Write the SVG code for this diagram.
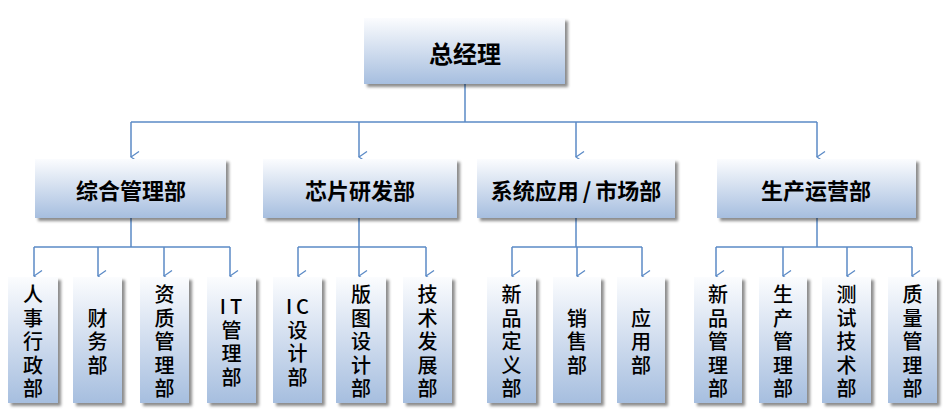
<svg xmlns="http://www.w3.org/2000/svg" width="950" height="420" viewBox="0 0 950 420">
<defs>
<linearGradient id="g" x1="0" y1="0" x2="0" y2="1">
<stop offset="0" stop-color="#FBFCFE"/>
<stop offset="1" stop-color="#A6BEDF"/>
</linearGradient>
<filter id="sh" x="-20%" y="-20%" width="150%" height="150%">
<feDropShadow dx="3" dy="3" stdDeviation="1.5" flood-color="#000" flood-opacity="0.45"/>
</filter>
<marker id="arr" viewBox="0 0 12 10" refX="6" refY="9" markerWidth="12" markerHeight="10" markerUnits="userSpaceOnUse" orient="auto-start-reverse">
<path d="M0.5,1 L6,9 L11.5,1" fill="none" stroke="#5B8AC6" stroke-width="1.3"/>
</marker>
</defs>
<style>
.box{fill:url(#g);filter:url(#sh);}
.t0{font-family:"Noto Sans CJK SC",sans-serif;font-size:24px;font-weight:bold;fill:#000;text-anchor:middle;dominant-baseline:central;}
.t1{font-family:"Noto Sans CJK SC",sans-serif;font-size:22px;font-weight:bold;fill:#000;text-anchor:middle;dominant-baseline:central;}
.t2{font-family:"Noto Sans CJK SC",sans-serif;font-size:20px;font-weight:500;fill:#000;text-anchor:middle;dominant-baseline:central;}
.ln{fill:none;stroke:#5B8AC6;stroke-width:1.5;}
.ar{fill:none;stroke:#5B8AC6;stroke-width:1.5;marker-end:url(#arr);}
</style>
<g id="connectors">
<path class="ln" d="M465,84 V122 M131,122 H817"/>
<path class="ar" d="M131,122 V157"/>
<path class="ar" d="M359,122 V157"/>
<path class="ar" d="M576,122 V157"/>
<path class="ar" d="M817,122 V157"/>
<path class="ln" d="M131,218 V247 M34,247 H230"/>
<path class="ar" d="M34,247 V276"/>
<path class="ar" d="M98,247 V276"/>
<path class="ar" d="M164,247 V276"/>
<path class="ar" d="M230,247 V276"/>
<path class="ln" d="M359,218 V247 M298,247 H426"/>
<path class="ar" d="M298,247 V276"/>
<path class="ar" d="M359,247 V276"/>
<path class="ar" d="M426,247 V276"/>
<path class="ln" d="M576,218 V247 M512,247 H642"/>
<path class="ar" d="M512,247 V276"/>
<path class="ar" d="M577,247 V276"/>
<path class="ar" d="M642,247 V276"/>
<path class="ln" d="M817,218 V247 M716,247 H912"/>
<path class="ar" d="M716,247 V276"/>
<path class="ar" d="M783,247 V276"/>
<path class="ar" d="M847,247 V276"/>
<path class="ar" d="M912,247 V276"/>
</g>
<g id="n-ceo"><rect class="box" x="364" y="18" width="201" height="66"/><text class="t0" x="465" y="52">总经理</text></g>
<g id="n-zh"><rect class="box" x="35" y="159" width="191" height="59"/><text class="t1" x="131" y="189">综合管理部</text></g>
<g id="n-xp"><rect class="box" x="263" y="159" width="194" height="59"/><text class="t1" x="360" y="189">芯片研发部</text></g>
<g id="n-xt"><rect class="box" x="477" y="159" width="198" height="59"/><text class="t1" x="576" y="189"><tspan>系统应用</tspan><tspan dx="4">/</tspan><tspan dx="4">市场部</tspan></text></g>
<g id="n-sc"><rect class="box" x="717" y="159" width="199" height="59"/><text class="t1" x="816" y="189">生产运营部</text></g>

<g id="n-rs"><rect class="box" x="8" y="277" width="50" height="126"/><text class="t2"><tspan x="33" y="293">人</tspan><tspan x="33" y="316.5">事</tspan><tspan x="33" y="340">行</tspan><tspan x="33" y="363.5">政</tspan><tspan x="33" y="387">部</tspan></text></g>
<g id="n-cw"><rect class="box" x="73" y="277" width="49" height="126"/><text class="t2"><tspan x="97.5" y="316.5">财</tspan><tspan x="97.5" y="340">务</tspan><tspan x="97.5" y="363.5">部</tspan></text></g>
<g id="n-zz"><rect class="box" x="140" y="277" width="49" height="126"/><text class="t2"><tspan x="164.5" y="293">资</tspan><tspan x="164.5" y="316.5">质</tspan><tspan x="164.5" y="340">管</tspan><tspan x="164.5" y="363.5">理</tspan><tspan x="164.5" y="387">部</tspan></text></g>
<g id="n-it"><rect class="box" x="207" y="277" width="49" height="126"/><text class="t2"><tspan x="233" y="305" letter-spacing="4">IT</tspan><tspan x="231.5" y="328.5">管</tspan><tspan x="231.5" y="352">理</tspan><tspan x="231.5" y="375.5">部</tspan></text></g>

<g id="n-ic"><rect class="box" x="273" y="277" width="49" height="126"/><text class="t2"><tspan x="299.5" y="305" letter-spacing="4">IC</tspan><tspan x="297.5" y="328.5">设</tspan><tspan x="297.5" y="352">计</tspan><tspan x="297.5" y="375.5">部</tspan></text></g>
<g id="n-bt"><rect class="box" x="336" y="277" width="50" height="126"/><text class="t2"><tspan x="361" y="293">版</tspan><tspan x="361" y="316.5">图</tspan><tspan x="361" y="340">设</tspan><tspan x="361" y="363.5">计</tspan><tspan x="361" y="387">部</tspan></text></g>
<g id="n-js"><rect class="box" x="403" y="277" width="49" height="126"/><text class="t2"><tspan x="427.5" y="293">技</tspan><tspan x="427.5" y="316.5">术</tspan><tspan x="427.5" y="340">发</tspan><tspan x="427.5" y="363.5">展</tspan><tspan x="427.5" y="387">部</tspan></text></g>

<g id="n-xpdy"><rect class="box" x="487" y="277" width="49" height="126"/><text class="t2"><tspan x="511.5" y="293">新</tspan><tspan x="511.5" y="316.5">品</tspan><tspan x="511.5" y="340">定</tspan><tspan x="511.5" y="363.5">义</tspan><tspan x="511.5" y="387">部</tspan></text></g>
<g id="n-xs"><rect class="box" x="553" y="277" width="48" height="126"/><text class="t2"><tspan x="577" y="316.5">销</tspan><tspan x="577" y="340">售</tspan><tspan x="577" y="363.5">部</tspan></text></g>
<g id="n-yy"><rect class="box" x="617" y="277" width="48" height="126"/><text class="t2"><tspan x="641" y="316.5">应</tspan><tspan x="641" y="340">用</tspan><tspan x="641" y="363.5">部</tspan></text></g>

<g id="n-xpgl"><rect class="box" x="694" y="277" width="48" height="126"/><text class="t2"><tspan x="718" y="293">新</tspan><tspan x="718" y="316.5">品</tspan><tspan x="718" y="340">管</tspan><tspan x="718" y="363.5">理</tspan><tspan x="718" y="387">部</tspan></text></g>
<g id="n-scgl"><rect class="box" x="759" y="277" width="48" height="126"/><text class="t2"><tspan x="783" y="293">生</tspan><tspan x="783" y="316.5">产</tspan><tspan x="783" y="340">管</tspan><tspan x="783" y="363.5">理</tspan><tspan x="783" y="387">部</tspan></text></g>
<g id="n-csjs"><rect class="box" x="822" y="277" width="49" height="126"/><text class="t2"><tspan x="846.5" y="293">测</tspan><tspan x="846.5" y="316.5">试</tspan><tspan x="846.5" y="340">技</tspan><tspan x="846.5" y="363.5">术</tspan><tspan x="846.5" y="387">部</tspan></text></g>
<g id="n-zlgl"><rect class="box" x="888" y="277" width="49" height="126"/><text class="t2"><tspan x="912.5" y="293">质</tspan><tspan x="912.5" y="316.5">量</tspan><tspan x="912.5" y="340">管</tspan><tspan x="912.5" y="363.5">理</tspan><tspan x="912.5" y="387">部</tspan></text></g>
</svg>
